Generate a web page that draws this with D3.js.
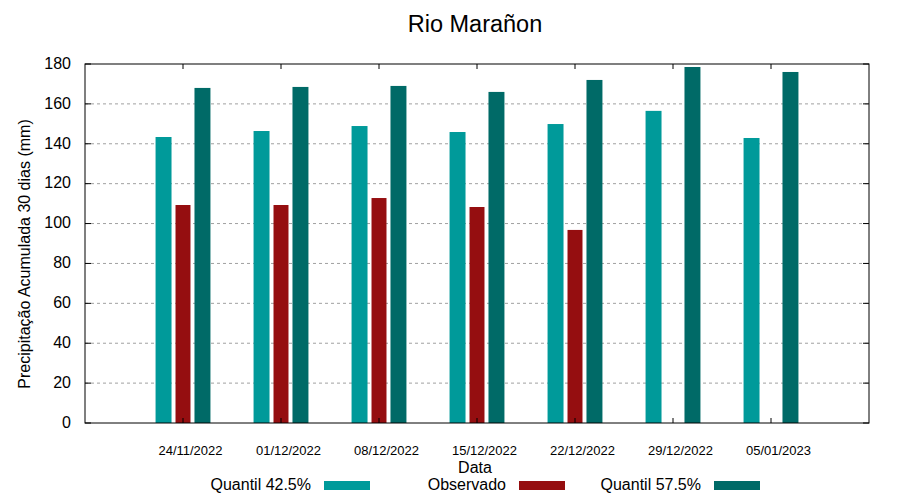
<!DOCTYPE html>
<html>
<head>
<meta charset="utf-8">
<script src="https://cdn.jsdelivr.net/npm/d3@7"></script>
<style>
  html, body { margin: 0; padding: 0; background: #fff; }
  text { font-family: "Liberation Sans", Arial, sans-serif; fill: #000; }
</style>
</head>
<body>
<svg id="chart" width="900" height="500"></svg>
<script>
// ---- data ----
const dates = ["24/11/2022", "01/12/2022", "08/12/2022", "15/12/2022", "22/12/2022", "29/12/2022", "05/01/2023"];
const quantil425 = [143.4, 146.4, 148.9, 145.9, 149.9, 156.5, 142.9];
const observado  = [109.3, 109.3, 112.8, 108.3, 96.8, null, null];
const quantil575 = [168.0, 168.5, 169.0, 166.0, 172.0, 178.5, 176.0];
const yTicks = [0, 20, 40, 60, 80, 100, 120, 140, 160, 180];
const seriesNames = ["Quantil 42.5%", "Observado", "Quantil 57.5%"];
const title = "Rio Marañon";
const xLabel = "Data";
const yLabel = "Precipitação Acumulada 30 dias (mm)";

// ---- layout ----
const mL = 85, mR = 869, mT = 64, mB = 423;
const colors = ["#009a9a", "#950e10", "#006a67"];

const parse = d3.timeParse("%d/%m/%Y");
const dateObjs = dates.map(parse);
const dayMs = 86400000;

const x = d3.scaleTime()
  .domain([new Date(dateObjs[0].getTime() - 7 * dayMs), new Date(dateObjs[dateObjs.length - 1].getTime() + 7 * dayMs)])
  .range([mL, mR]);
const y = d3.scaleLinear().domain([0, 180]).range([mB, mT]);

const dayPx = x(new Date(dateObjs[0].getTime() + dayMs)) - x(dateObjs[0]);

const svg = d3.select("#chart");

// gridlines
svg.append("g").selectAll("line")
  .data(yTicks.filter(t => t > 0 && t < 180))
  .join("line")
  .attr("x1", mL).attr("x2", mR)
  .attr("y1", d => y(d)).attr("y2", d => y(d))
  .attr("stroke", "#a0a0a0").attr("stroke-width", 1)
  .attr("stroke-dasharray", "3,3");

// bars
const series = [quantil425, observado, quantil575];
const offsets = [-1.39, 0, 1.39];   // in days
const widths = [1.14, 1.07, 1.14];   // in days
series.forEach((vals, si) => {
  svg.append("g").selectAll("rect")
    .data(vals.map((v, i) => ({ v, d: dateObjs[i] })).filter(o => o.v != null))
    .join("rect")
    .attr("x", o => x(o.d) + offsets[si] * dayPx - widths[si] * dayPx / 2)
    .attr("width", widths[si] * dayPx)
    .attr("y", o => y(o.v))
    .attr("height", o => y(0) - y(o.v))
    .attr("fill", colors[si]);
});

// frame
svg.append("rect")
  .attr("x", mL).attr("y", mT)
  .attr("width", mR - mL).attr("height", mB - mT)
  .attr("fill", "none").attr("stroke", "#000").attr("stroke-width", 1);

// y axis ticks (inward, mirrored)
const tickLen = 6;
const yt = svg.append("g");
yTicks.forEach(t => {
  yt.append("line").attr("x1", mL).attr("x2", mL + tickLen)
    .attr("y1", y(t)).attr("y2", y(t)).attr("stroke", "#000");
  yt.append("line").attr("x1", mR).attr("x2", mR - tickLen)
    .attr("y1", y(t)).attr("y2", y(t)).attr("stroke", "#000");
  yt.append("text").attr("x", mL - 14).attr("y", y(t) - 1).attr("dy", "0.36em")
    .attr("text-anchor", "end").style("font-size", "16px").text(t);
});

// x axis ticks
const xt = svg.append("g");
dateObjs.forEach((d, i) => {
  xt.append("line").attr("x1", x(d)).attr("x2", x(d))
    .attr("y1", mB).attr("y2", mB - 5).attr("stroke", "#000");
  xt.append("line").attr("x1", x(d)).attr("x2", x(d))
    .attr("y1", mT).attr("y2", mT + 5).attr("stroke", "#000");
  xt.append("text").attr("x", x(d) + 7.5).attr("y", 455)
    .attr("text-anchor", "middle").style("font-size", "13px").text(dates[i]);
});

// title & labels
svg.append("text").attr("x", 475).attr("y", 32).attr("text-anchor", "middle")
  .style("font-size", "23.5px").text(title);
svg.append("text").attr("x", 475).attr("y", 473).attr("text-anchor", "middle")
  .style("font-size", "16px").text(xLabel);
svg.append("text")
  .attr("transform", `translate(30, 254) rotate(-90)`)
  .attr("text-anchor", "middle").style("font-size", "16px").text(yLabel);

// legend
const legTextEnd = [311, 506, 701];
const lg = svg.append("g");
seriesNames.forEach((n, i) => {
  lg.append("text").attr("x", legTextEnd[i]).attr("y", 490)
    .attr("text-anchor", "end").style("font-size", "16px").text(n);
  lg.append("rect").attr("x", legTextEnd[i] + 13).attr("y", 481)
    .attr("width", 46).attr("height", 9).attr("fill", colors[i]);
});
</script>
</body>
</html>
